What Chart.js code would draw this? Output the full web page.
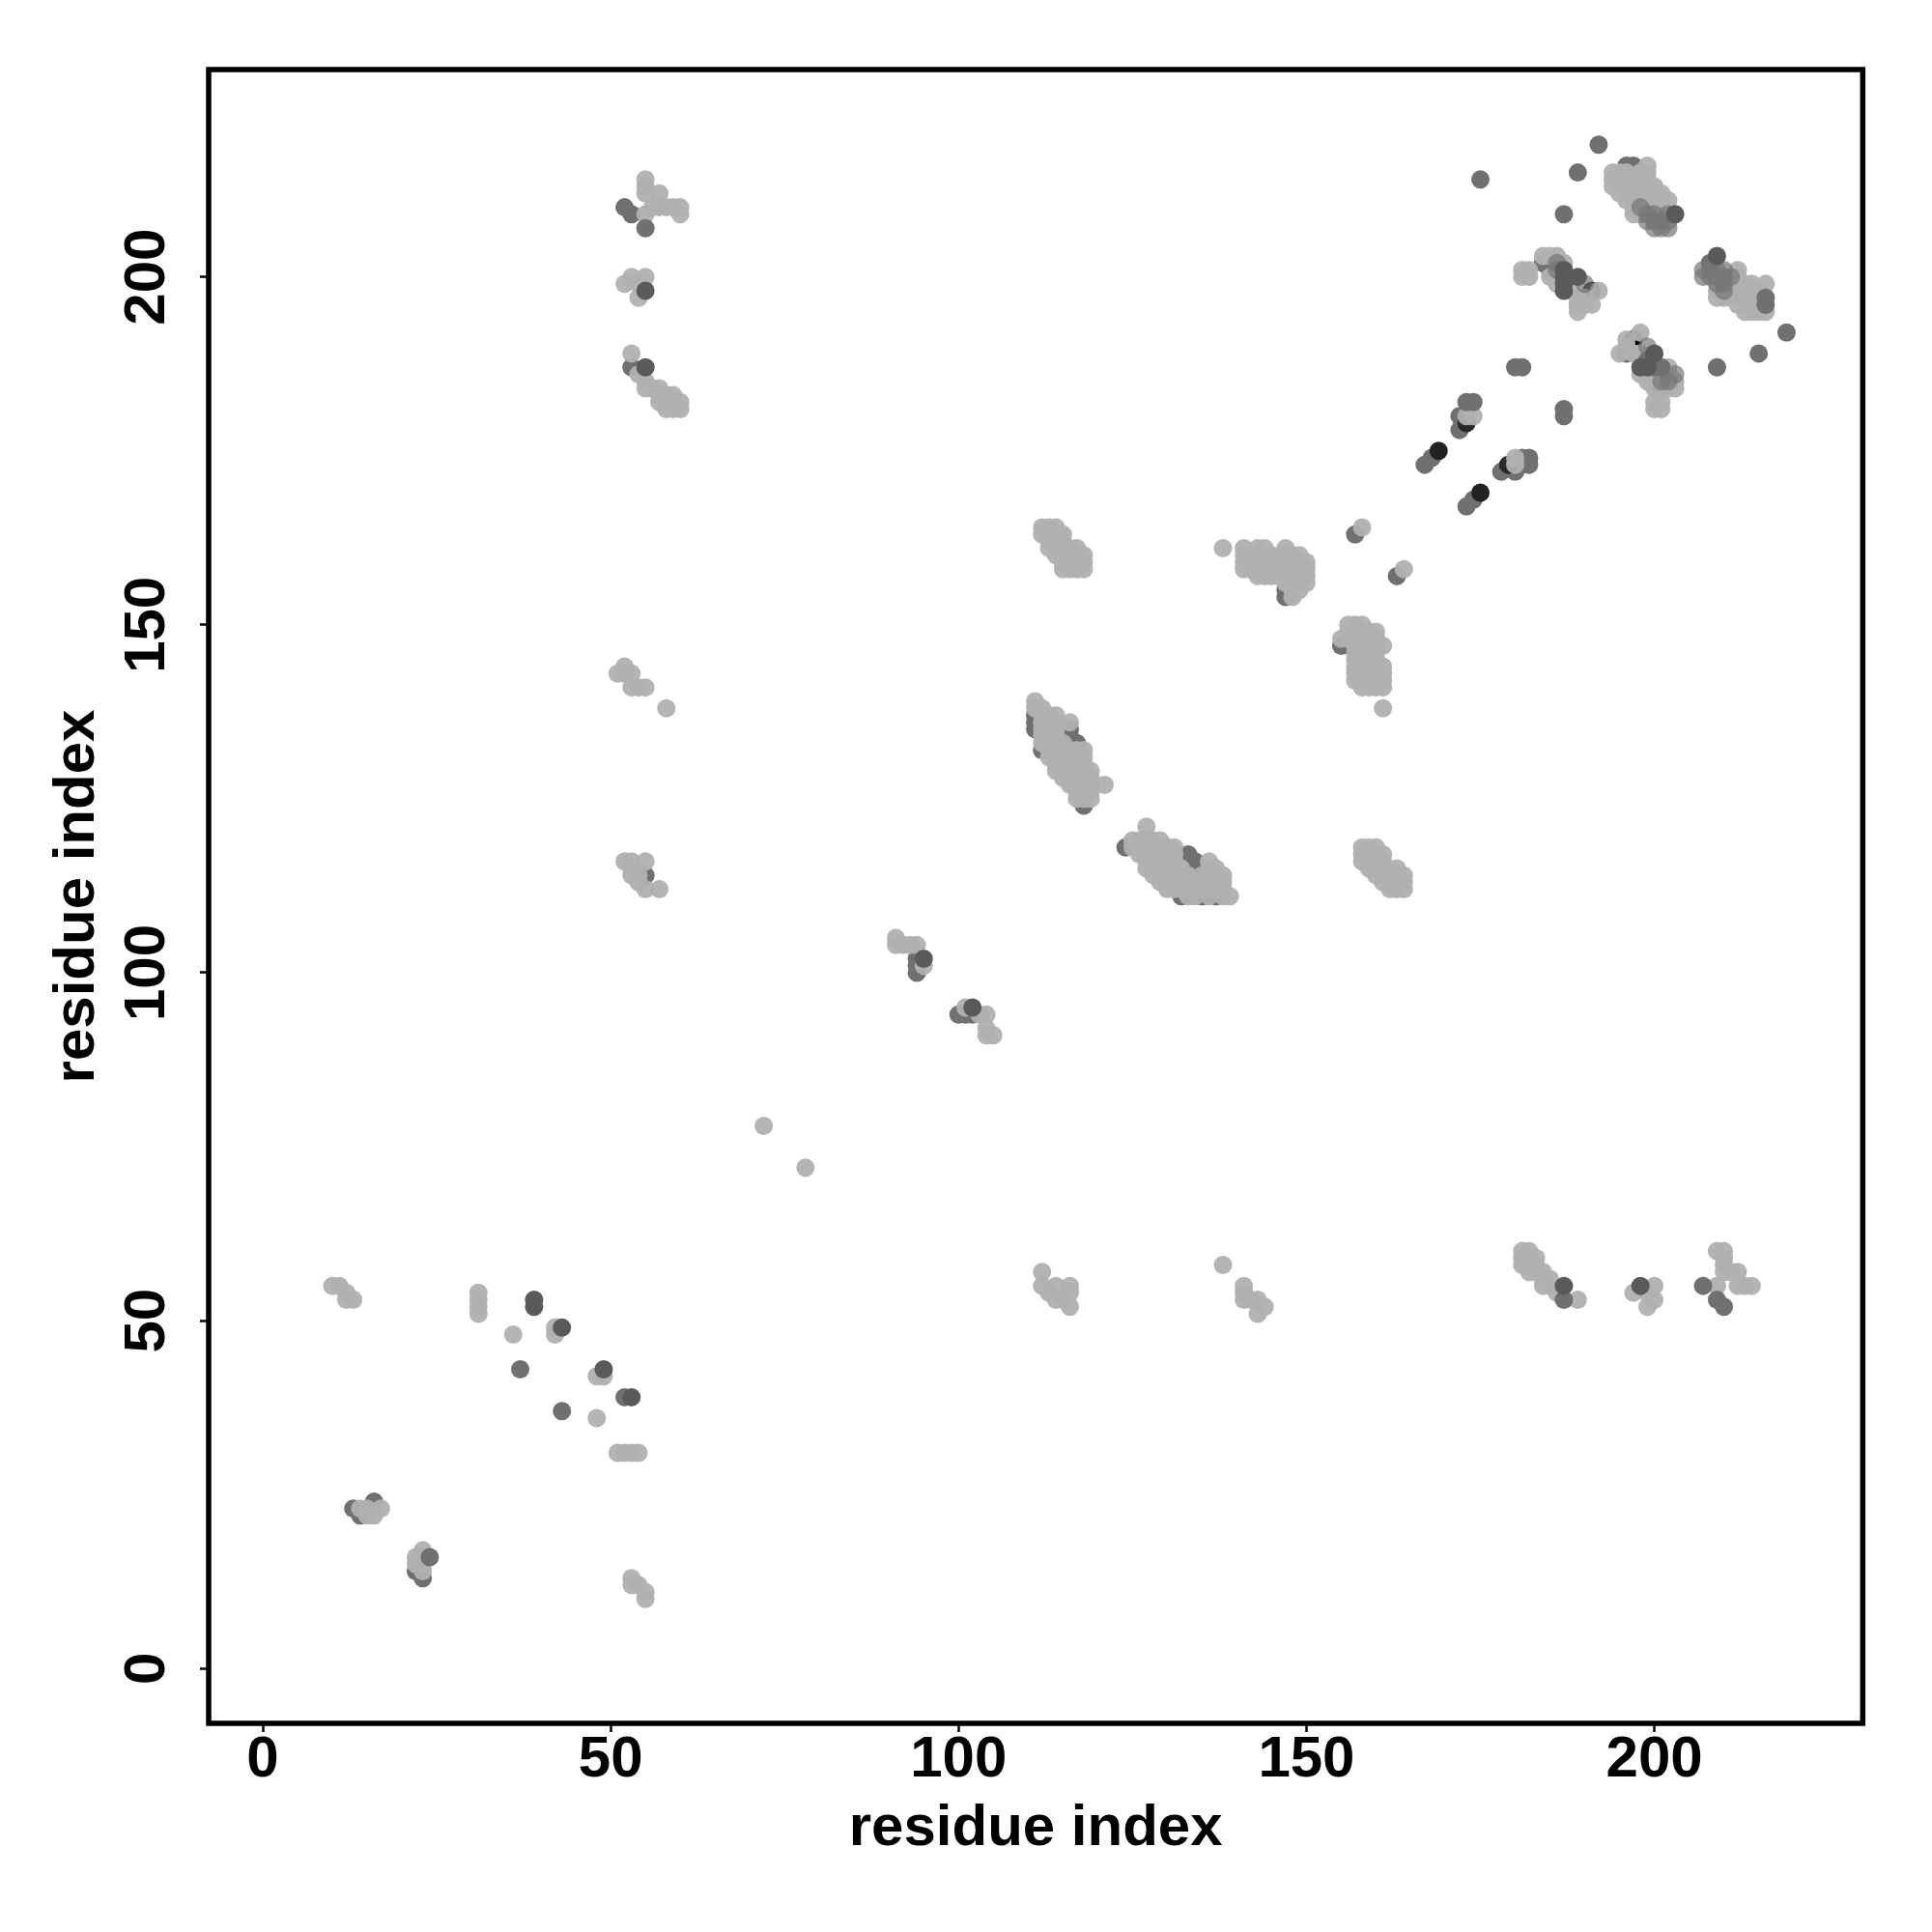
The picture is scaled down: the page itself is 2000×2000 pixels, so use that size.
<!DOCTYPE html>
<html>
<head>
<meta charset="utf-8">
<style>html,body{margin:0;padding:0;background:#fff}canvas{display:block}</style>
<script src="https://cdn.jsdelivr.net/npm/chart.js@4"></script>
</head>
<body>
<canvas id="c" width="2000" height="2000"></canvas>
<script>
const tickValues = [0, 50, 100, 150, 200];
const axisLabel = "residue index";

// Lower layers: partly hidden by the light points
const midUnder = [
[196,216],[197,216],[184,202],[185,202],[185,201],[208,202],
[196,189],[189,196],[201,184],[172,180],[172,178],[168,174],[167,173],[174,168],[173,167],
[181,174],[182,174],[181,173],[182,173],[180,172],[178,172],[157,163],[163,157],[147,155],[147,154],[155,147],[156,147],
[111,137],[111,136],[111,135],[112,132],[115,135],[116,135],[116,134],[116,133],[117,133],[118,124],[124,118],
[133,117],[134,116],[134,115],[132,111],[135,111],[137,111],[52,210],[53,209],[53,187],[55,114],[100,94],[101,94],
[102,94],[94,102],[94,101],[94,100],[22,14],[23,13],[13,23],[14,22],[16,24]
];
const darkUnder = [[173,179],[179,173]];
const blackUnder = [[191,198],[197,191]];

const lightPoints = [
// top right block
[199,216],[194,215],[195,215],[196,215],[198,215],[199,215],[194,214],[195,214],[196,214],[197,214],[198,214],[199,214],
[194,213],[195,213],[196,213],[197,213],[198,213],[199,213],[200,213],[195,212],[196,212],[197,212],[198,212],[199,212],[200,212],[201,212],
[196,211],[197,211],[198,211],[199,211],[200,211],[201,211],[202,211],[197,210],[198,210],[199,210],[200,210],[201,210],[197,209],[198,209],[201,209],
[181,201],[182,201],[181,200],[182,200],[184,203],[185,203],[186,203],[187,202],[185,200],[186,200],[186,199],[188,198],
[189,197],[190,197],[191,196],[189,196],[190,196],[189,195],[192,198],
[212,201],[216,199],[209,198],[210,197],[211,198],[211,197],[212,200],[212,199],[212,198],[212,197],[212,196],[213,199],[213,198],[213,197],[213,196],[213,195],
[214,199],[214,198],[214,197],[214,196],[214,195],[215,198],[215,197],[215,196],[215,195],[216,195],[209,197],
[198,192],[196,191],[195,189],[196,190],[197,189],[198,189],[202,187],[203,185],[203,184],[200,182],[201,182],[200,181],[201,181],
[199,185],[198,186],[200,186],[202,186],[202,184],[200,184],[199,186],
[173,180],[174,180],[180,174],[180,173],[158,164],[164,158],[138,161],
// block at 141-150, 154-161
[141,161],[143,161],[144,161],[147,161],[141,160],[142,160],[143,160],[144,160],[145,160],[147,160],[148,160],[149,160],
[141,159],[142,159],[143,159],[144,159],[145,159],[146,159],[147,159],[148,159],[149,159],[150,159],
[141,158],[142,158],[143,158],[144,158],[145,158],[146,158],[147,158],[148,158],[149,158],[150,158],
[143,157],[144,157],[145,157],[146,157],[147,157],[148,157],[149,157],[150,157],
[147,156],[148,156],[149,156],[150,156],[148,155],[149,155],[148,154],
// block at 155-161, 138-150
[161,138],[158,141],[159,141],[160,141],[161,141],[157,142],[158,142],[159,142],[160,142],[161,142],
[157,143],[158,143],[159,143],[160,143],[161,143],[157,144],[158,144],[159,144],[160,144],[161,144],
[157,145],[158,145],[159,145],[160,145],[157,146],[158,146],[159,146],[160,146],
[155,148],[156,148],[157,148],[158,148],[159,148],[160,148],[157,147],[158,147],[159,147],[160,147],[161,147],
[156,149],[157,149],[158,149],[159,149],[160,149],[156,150],[157,150],[158,150],
// block at 112-118, 158-164
[112,164],[113,164],[114,164],[112,163],[113,163],[114,163],[115,163],[113,162],[114,162],[115,162],
[113,161],[114,161],[115,161],[116,161],[117,161],[114,160],[115,160],[116,160],[117,160],[118,160],
[115,159],[116,159],[117,159],[118,159],[115,158],[116,158],[117,158],[118,158],
// band 111-121, 125-139
[111,139],[111,138],[112,138],[112,137],[113,137],[114,137],[112,136],[113,136],[114,136],[116,136],
[112,135],[113,135],[114,135],[112,134],[113,134],[114,134],[112,133],[113,133],[114,133],[115,133],
[113,132],[114,132],[115,132],[116,132],[117,132],[118,132],[113,131],[114,131],[115,131],[116,131],[117,131],[118,131],
[114,130],[115,130],[116,130],[117,130],[118,130],[114,129],[115,129],[116,129],[117,129],[118,129],[119,129],
[115,128],[116,128],[117,128],[118,128],[119,128],[116,127],[117,127],[118,127],[119,127],[121,127],
[117,126],[118,126],[119,126],[118,125],[119,125],[117,125],
// band 125-139, 111-121
[127,121],[125,119],[126,119],[127,119],[128,119],[129,119],[125,118],[126,118],[127,118],[128,118],[129,118],[130,118],[131,118],
[126,117],[127,117],[128,117],[129,117],[130,117],[131,117],[127,116],[128,116],[129,116],[130,116],[131,116],
[127,115],[128,115],[129,115],[130,115],[131,115],[132,115],[128,114],[129,114],[130,114],[131,114],[132,114],[133,114],
[129,113],[130,113],[131,113],[132,113],[133,113],[134,113],[130,112],[131,112],[132,112],[133,112],[134,112],[135,112],
[133,111],[134,111],[136,111],[136,116],[136,115],[136,114],[136,113],[136,112],[135,114],[135,113],[138,114],[138,113],
[137,115],[137,114],[137,113],[137,112],[138,112],[138,111],[139,111],
// block at 158-164, 112-118
[158,118],[159,118],[160,118],[158,117],[159,117],[160,117],[161,117],[158,116],[159,116],[160,116],[161,116],
[159,115],[160,115],[161,115],[163,115],[160,114],[161,114],[163,114],[164,114],[161,113],[162,113],[163,113],[164,113],[162,112],[163,112],[164,112],
// column near 55, upper left
[55,214],[55,213],[55,212],[57,212],[56,210],[57,210],[58,210],[59,210],[60,210],[60,209],[55,209],
[52,199],[53,200],[55,200],[54,197],[54,199],[53,189],[54,186],[55,185],[55,184],[56,184],[57,184],[57,183],[58,183],[59,183],
[57,182],[58,182],[59,182],[60,182],[60,181],[59,181],[58,181],
[51,143],[52,144],[52,143],[53,143],[53,141],[54,141],[55,141],[58,138],
[52,116],[53,116],[55,116],[53,114],[54,114],[54,113],[55,112],[57,112],[53,115],
[72,78],[78,72],[91,105],[91,104],[92,104],[93,104],[94,104],[95,101],[101,95],[103,94],[104,94],[104,92],[104,91],[105,91],
// lower left
[10,55],[11,55],[12,54],[12,53],[13,53],[31,54],[31,53],[31,52],[31,51],[36,48],[42,49],[42,48],[48,42],[49,42],[48,36],
[51,31],[52,31],[53,31],[54,31],[14,23],[15,23],[15,22],[16,22],[17,23],[23,17],[22,16],[23,16],[22,15],[23,15],[23,14],
[53,13],[53,12],[54,12],[55,11],[55,10],
// lower right
[181,60],[182,60],[181,59],[182,59],[183,59],[181,58],[182,58],[183,58],[182,57],[183,57],[184,57],[184,56],[184,55],[185,55],[186,54],[185,56],[189,53],
[197,54],[200,55],[199,54],[200,53],[199,52],[209,60],[210,60],[210,59],[210,58],[210,57],[211,57],[212,57],[209,55],[212,55],[213,55],[214,55],
[112,57],[112,55],[113,54],[114,55],[114,53],[116,55],[116,54],[116,52],[115,53],[138,58],[141,55],[141,54],[141,53],[142,53],[143,53],[144,52],[143,51]
];

// Washed greys lying over the light points
const greyMiddle = [
[186,202],[186,201],[198,210],[199,209],[200,209],[200,208],[199,208],[201,208],[201,207],[202,207],[200,207],[202,208],[202,209],
[207,201],[207,200],[208,201],[208,200],[209,200],[209,199],[210,201],[209,201],[210,200],[210,199],[211,200],[210,198],
[199,190],[203,186],[201,185],[202,185],[190,199]
];

// Upper layers: drawn over the light points
const midTop = [
[192,219],[189,215],[175,214],[187,209],[216,197],[216,196],[219,192],[215,189],[209,187],[181,187],[180,187],[187,181],[187,180],
[173,182],[174,182],[55,207],[207,55],[209,53],[210,52],[187,53],[37,43],[43,37],[52,39],[24,16],[201,187],[200,187],[199,188]
];
const darkTop = [
[187,201],[187,200],[187,199],[187,198],[189,200],[198,187],[199,187],
[203,209],[209,203],[200,189],[55,198],[55,187],[187,55],[198,55],[39,53],[39,52],[43,49],[49,43],[53,39],[95,102],[102,95]
];
const blackTop = [[169,175],[175,169]];

const toPoints = rows => rows.map(r => ({x: r[0], y: r[1]}));
const layer = (rows, color, order) => ({
  data: toPoints(rows), backgroundColor: color, borderWidth: 0, pointRadius: 9.5, pointHoverRadius: 9.5, order
});

const framePlugin = {
  id: 'frame',
  afterDraw(chart) {
    const a = chart.chartArea, g = chart.ctx;
    g.save();
    g.strokeStyle = '#000';
    g.lineWidth = 5.5;
    g.strokeRect(a.left, a.top, a.right - a.left, a.bottom - a.top);
    g.restore();
  }
};

const font = {family: '"Liberation Sans"', size: 60, weight: 'bold'};
const gridOpts = {display: true, drawOnChartArea: false, drawTicks: true, tickLength: 9, tickWidth: 2.5, tickColor: '#000', color: '#000'};

new Chart(document.getElementById('c'), {
  type: 'scatter',
  data: {datasets: [
    layer(blackTop, '#222222', 1),
    layer(darkTop, '#5a5a5a', 2),
    layer(midTop, '#707070', 3),
    layer(greyMiddle, 'rgba(118,118,118,0.7)', 4),
    layer(lightPoints, 'rgba(176,176,176,0.95)', 5),
    layer(blackUnder, '#000', 6),
    layer(darkUnder, '#2a2a2a', 7),
    layer(midUnder, '#707070', 8)
  ]},
  options: {
    responsive: false,
    animation: false,
    layout: {padding: {top: 72, right: 71.7, left: 0, bottom: 0}},
    plugins: {legend: {display: false}, tooltip: {enabled: false}},
    scales: {
      x: {
        type: 'linear', min: -7.775, max: 229.95,
        grid: gridOpts, border: {display: false},
        afterBuildTicks: s => { s.ticks = tickValues.map(v => ({value: v})); },
        afterFit: s => { s.height = 216; },
        ticks: {font, color: '#000', padding: -7, maxRotation: 0, minRotation: 0},
        title: {display: true, text: axisLabel, font, color: '#000', padding: {top: 0, bottom: 71}}
      },
      y: {
        type: 'linear', min: -7.87, max: 229.8,
        grid: gridOpts, border: {display: false},
        afterBuildTicks: s => { s.ticks = tickValues.map(v => ({value: v})); },
        afterFit: s => { s.width = 216; },
        ticks: {font, color: '#000', padding: 3, minRotation: 90, maxRotation: 90, crossAlign: 'center'},
        title: {display: true, text: axisLabel, font, color: '#000', padding: {top: 44, bottom: 0}}
      }
    }
  },
  plugins: [framePlugin]
});
</script>
</body>
</html>
